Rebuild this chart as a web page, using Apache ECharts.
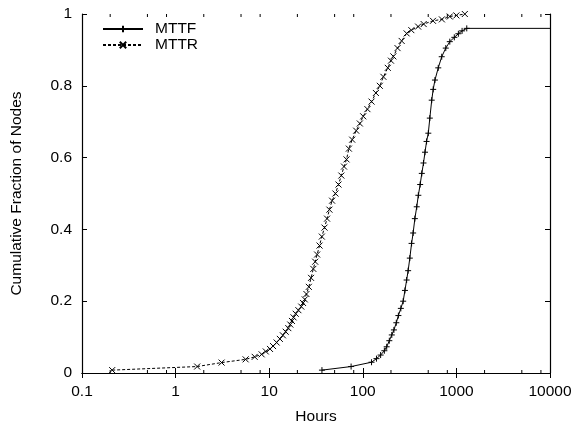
<!DOCTYPE html>
<html><head><meta charset="utf-8">
<script src="https://cdn.jsdelivr.net/npm/echarts@6/dist/echarts.min.js"></script>
<style>html,body{margin:0;padding:0;background:#fff}#c{width:574px;height:425px}</style>
</head><body><div id="c"></div>
<script>
// MTTF cumulative distribution (hours, fraction)
const mttfHours = [36.6, 75, 124, 140, 155, 170, 180, 192, 204, 215, 228, 240, 255, 270, 282, 294, 305, 318, 332, 345, 360, 377, 392, 410, 427, 445, 462, 480, 501, 520, 545, 565, 590, 640, 697, 770, 850, 950, 1050, 1150, 1290];
const mttfFraction = [0.008, 0.018, 0.03, 0.04, 0.05, 0.062, 0.073, 0.09, 0.106, 0.12, 0.14, 0.16, 0.18, 0.2, 0.23, 0.259, 0.285, 0.32, 0.361, 0.39, 0.43, 0.463, 0.495, 0.525, 0.556, 0.585, 0.615, 0.645, 0.668, 0.71, 0.76, 0.79, 0.816, 0.85, 0.881, 0.905, 0.923, 0.935, 0.945, 0.953, 0.96];
const mttfTailHours = 10000;
const mttfTailFraction = 0.96;

// MTTR cumulative distribution (hours, fraction)
const mttrHours = [0.21, 1.7, 3.1, 5.6, 7.0, 8.3, 9.2, 10.2, 11, 12, 13, 14, 15, 16, 16.8, 17.5, 18.2, 19.2, 20.5, 22, 23, 24, 25, 26.5, 28, 29.6, 31, 32.5, 34.5, 36.5, 39, 41.5, 44, 47, 51, 55, 59, 63, 67, 71, 77, 85, 93, 101, 112, 124, 138, 152, 166, 185, 200, 212, 235, 260, 294, 330, 390, 447, 562, 700, 850, 1000, 1230];
const mttrFraction = [0.008, 0.018, 0.029, 0.038, 0.045, 0.052, 0.06, 0.067, 0.075, 0.085, 0.095, 0.105, 0.115, 0.125, 0.135, 0.145, 0.155, 0.165, 0.175, 0.185, 0.195, 0.205, 0.22, 0.24, 0.265, 0.29, 0.31, 0.33, 0.355, 0.38, 0.405, 0.43, 0.455, 0.48, 0.5, 0.525, 0.55, 0.575, 0.595, 0.625, 0.65, 0.675, 0.695, 0.715, 0.735, 0.756, 0.78, 0.8, 0.825, 0.85, 0.87, 0.882, 0.905, 0.925, 0.946, 0.955, 0.965, 0.972, 0.981, 0.985, 0.993, 0.996, 1.0];

const xTickLabels = ['0.1', '1', '10', '100', '1000', '10000'];
const minorTickValues = [0.2, 0.5, 0.8, 2, 5, 8, 20, 50, 80, 200, 500, 800, 2000, 5000, 8000];

const FONT = '"Liberation Sans", Arial, sans-serif';
const FS = 15.5;
const plusPath = 'path://M0,5L10,5M5,0L5,10';
const crossPath = 'path://M0,0L10,10M10,0L0,10';

const mttfData = mttfHours.map((h, i) => [h, mttfFraction[i]]);
mttfData.push({ value: [mttfTailHours, mttfTailFraction], symbol: 'none' });
const mttrData = mttrHours.map((h, i) => [h, mttrFraction[i]]);

function xLabel(v) {
  const idx = Math.round(Math.log10(v)) + 1;
  return xTickLabels[idx] !== undefined ? xTickLabels[idx] : '';
}

const axisLineStyle = { color: '#000', width: 1.2 };
const chart = echarts.init(document.getElementById('c'), null, { renderer: 'canvas' });
chart.setOption({
  animation: false,
  backgroundColor: '#fff',
  grid: { left: 82, right: 24, top: 14, bottom: 52, containLabel: false, outerBoundsMode: 'none' },
  legend: {
    data: ['MTTF', 'MTTR'],
    orient: 'vertical',
    left: 102, top: 21,
    itemWidth: 40, itemHeight: 8, itemGap: 0,
    textStyle: { fontFamily: FONT, fontSize: FS, color: '#000', lineHeight: 15, padding: [0, 0, 0, 7] },
    padding: 0
  },
  xAxis: [{
    type: 'log', logBase: 10, min: 0.1, max: 10000, position: 'bottom',
    name: 'Hours', nameLocation: 'middle', nameGap: 36,
    nameTextStyle: { fontFamily: FONT, fontSize: FS, color: '#000' },
    axisLine: { lineStyle: axisLineStyle },
    axisTick: { inside: true, length: 5, lineStyle: { color: '#000' } },
    axisLabel: { formatter: xLabel, fontFamily: FONT, fontSize: FS, color: '#000', margin: 11 },
    splitLine: { show: false }, minorTick: { show: false }
  }, {
    type: 'log', logBase: 10, min: 0.1, max: 10000, position: 'top',
    axisLine: { lineStyle: axisLineStyle },
    axisTick: { inside: true, length: 5, lineStyle: { color: '#000' } },
    axisLabel: { show: false }, splitLine: { show: false }
  }],
  yAxis: [{
    type: 'value', min: 0, max: 1, interval: 0.2, position: 'left',
    name: 'Cumulative Fraction of Nodes', nameLocation: 'middle', nameGap: 57, nameRotate: 90,
    nameTextStyle: { fontFamily: FONT, fontSize: FS, color: '#000' },
    axisLine: { show: true, lineStyle: axisLineStyle },
    axisTick: { show: true, inside: true, length: 5, lineStyle: { color: '#000' } },
    axisLabel: { fontFamily: FONT, fontSize: FS, color: '#000', margin: 10 },
    splitLine: { show: false }
  }, {
    type: 'value', min: 0, max: 1, interval: 0.2, position: 'right',
    axisLine: { show: true, lineStyle: axisLineStyle },
    axisTick: { show: true, inside: true, length: 5, lineStyle: { color: '#000' } },
    axisLabel: { show: false }, splitLine: { show: false }
  }],
  series: [{
    name: 'MTTF', type: 'line', data: mttfData,
    symbol: plusPath, symbolSize: 6, showAllSymbol: true,
    lineStyle: { color: '#000', width: 1 },
    itemStyle: { color: '#000', borderColor: '#000', borderWidth: 1 },
    z: 3
  }, {
    name: 'MTTR', type: 'line', data: mttrData,
    symbol: crossPath, symbolSize: 6, showAllSymbol: true,
    lineStyle: { color: '#000', width: 1, type: [3, 2] },
    itemStyle: { color: '#000', borderColor: '#000', borderWidth: 1 },
    z: 3
  }, {
    type: 'custom', silent: true, clip: false,
    data: minorTickValues.map(v => [v, 0]),
    encode: { x: 0, y: 1 },
    renderItem: function (params, api) {
      const v = api.value(0);
      const b = api.coord([v, 0]);
      const t = api.coord([v, 1]);
      return { type: 'group', children: [
        { type: 'line', shape: { x1: b[0], y1: b[1], x2: b[0], y2: b[1] - 3 }, style: { stroke: '#000', lineWidth: 1 } },
        { type: 'line', shape: { x1: t[0], y1: t[1], x2: t[0], y2: t[1] + 3 }, style: { stroke: '#000', lineWidth: 1 } }
      ] };
    }
  }]
});
</script></body></html>
